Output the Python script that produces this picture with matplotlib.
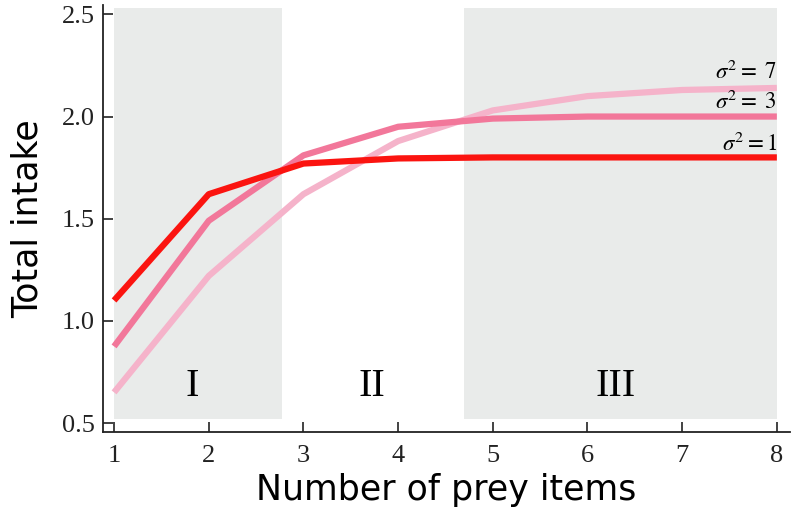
import matplotlib
matplotlib.use("Agg")
import matplotlib.pyplot as plt
import numpy as np

# number of prey items
items = [1, 2, 3, 4, 5, 6, 7, 8]
# total intake for each variance
intake_s1 = [1.10, 1.62, 1.77, 1.795, 1.80, 1.80, 1.80, 1.80]
intake_s3 = [0.875, 1.49, 1.81, 1.95, 1.99, 2.00, 2.00, 2.00]
intake_s7 = [0.65, 1.22, 1.62, 1.88, 2.03, 2.10, 2.13, 2.14]
series_labels = [r"$\sigma^2 = 1$", r"$\sigma^2 =\ 3$", r"$\sigma^2 =\ 7$"]
regions = ["I", "II", "III"]
yticks = [0.5, 1.0, 1.5, 2.0, 2.5]

plt.rcParams["mathtext.fontset"] = "stix"

fig = plt.figure(figsize=(7.93, 5.14), dpi=100)
ax = fig.add_axes([0.13, 0.1595, 0.866, 0.83])

# shaded regimes
shade = "#e9ebea"
ax.fill_between([1, 2.77], 0.52, 2.53, color=shade, lw=0, zorder=0)
ax.fill_between([4.70, 8], 0.52, 2.53, color=shade, lw=0, zorder=0)

ax.plot(items, intake_s7, color="#f5b3ca", lw=4.5, solid_capstyle="butt", zorder=2)
ax.plot(items, intake_s3, color="#f2779a", lw=4.5, solid_capstyle="butt", zorder=3)
ax.plot(items, intake_s1, color="#fb1410", lw=4.5, solid_capstyle="butt", zorder=4)

serif = {"family": "Liberation Serif"}
ax.text(8, 1.865, series_labels[0], ha="right", va="center", fontsize=16.5, **serif)
ax.text(8, 2.07, series_labels[1], ha="right", va="center", fontsize=16.5, **serif)
ax.text(8, 2.215, series_labels[2], ha="right", va="center", fontsize=16.5, **serif)

for lab, xpos in zip(regions, [1.82, 3.72, 6.3]):
    ax.text(xpos, 0.68, lab, ha="center", va="center", fontsize=29, **serif)

ax.set_xlim(0.884, 8.137)
ax.set_ylim(0.456, 2.544)
ax.set_xticks(items)
ax.set_yticks(yticks)
ax.set_yticklabels([f"{v:.1f}" for v in yticks])
for t in ax.get_xticklabels() + ax.get_yticklabels():
    t.set_fontfamily("Liberation Serif")
    t.set_fontsize(19)
ax.tick_params(direction="in", length=7, width=1.2, colors="#222222")
ax.tick_params(axis="x", pad=9)
ax.tick_params(axis="y", pad=6)

for s in ["top", "right"]:
    ax.spines[s].set_visible(False)
for s in ["left", "bottom"]:
    ax.spines[s].set_linewidth(1.3)
    ax.spines[s].set_color("#222222")

ax.set_xlabel("Number of prey items", fontsize=25, labelpad=5)
ax.set_ylabel("Total intake", fontsize=25, labelpad=12)

fig.savefig("out.png", dpi=100)
